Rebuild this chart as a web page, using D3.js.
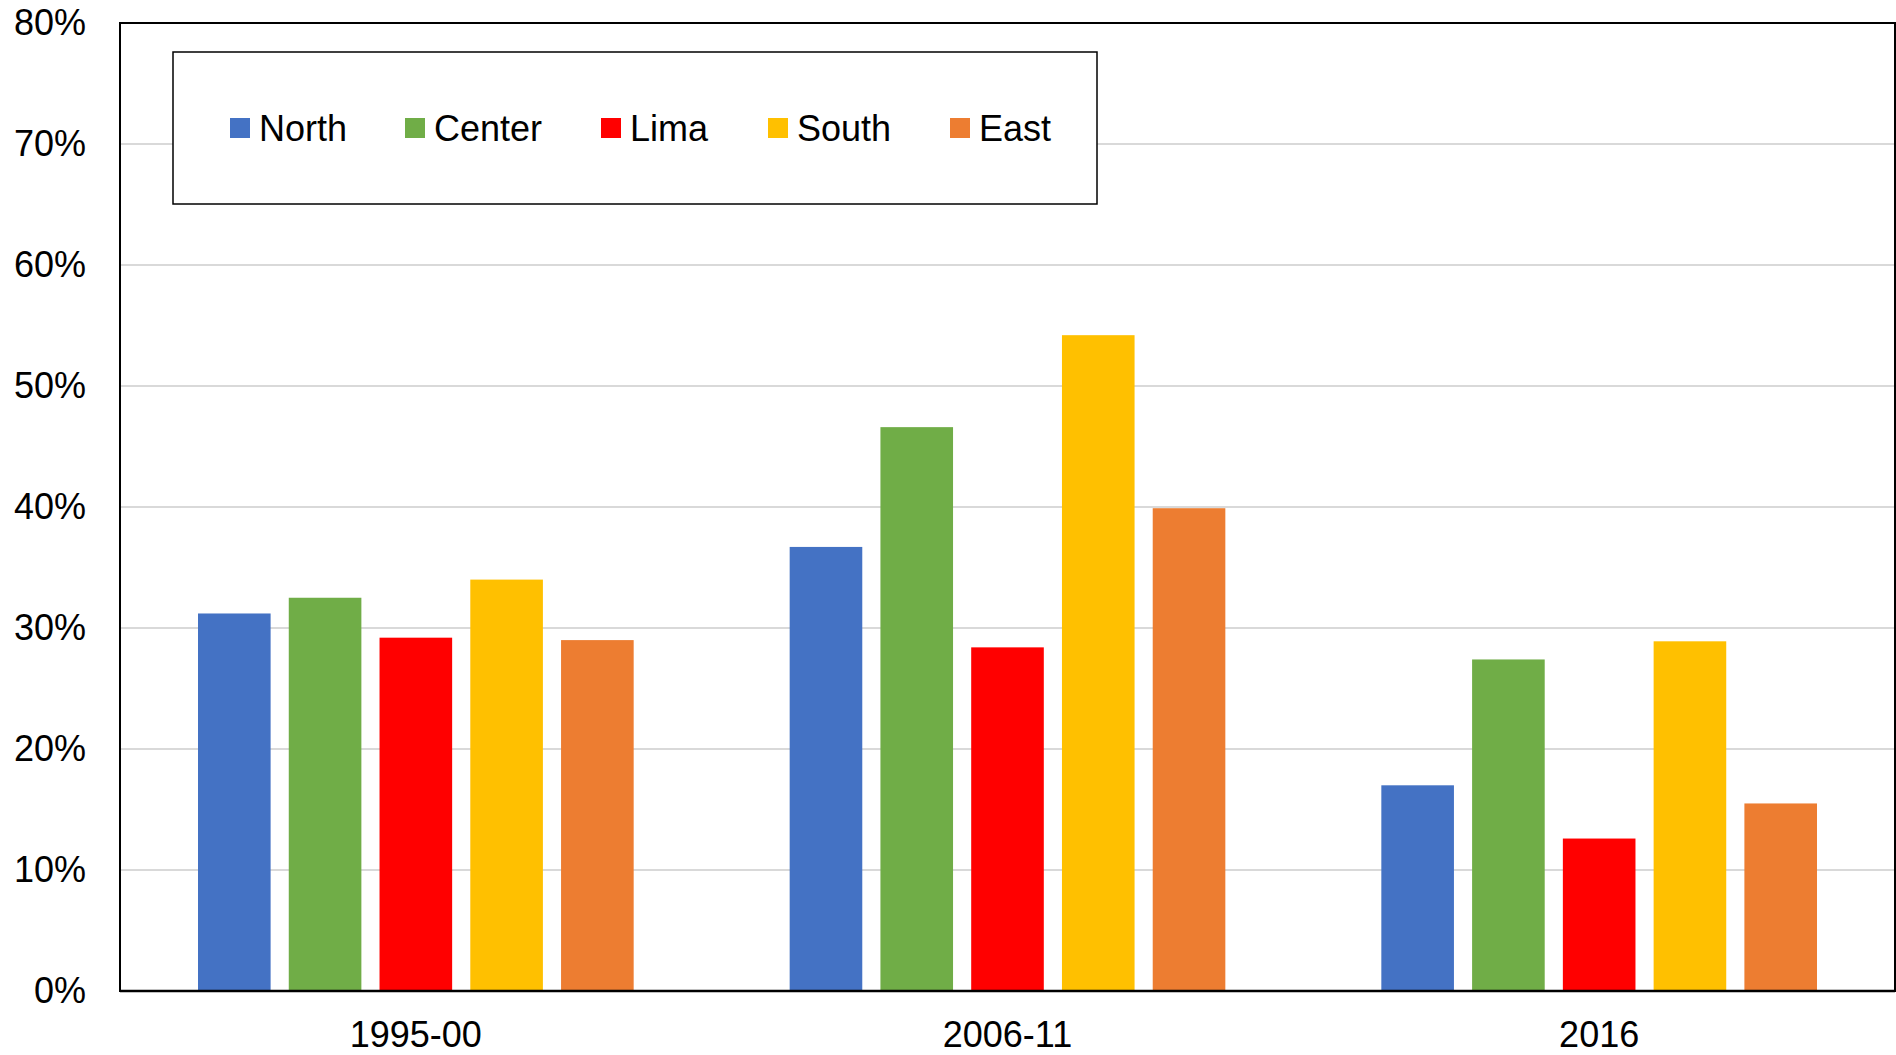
<!DOCTYPE html>
<html>
<head>
<meta charset="utf-8">
<script src="https://cdn.jsdelivr.net/npm/d3@7"></script>
<style>
  html, body { margin: 0; padding: 0; background: #fff; }
  svg { display: block; font-family: "Liberation Sans", Arial, sans-serif; }
</style>
</head>
<body>
<svg id="chart" width="1896" height="1055"></svg>
<script>
const categories = ["1995-00", "2006-11", "2016"];
const seriesNames = ["North", "Center", "Lima", "South", "East"];
const seriesColors = ["#4472C4", "#70AD47", "#FF0000", "#FFC000", "#ED7D31"];
const north  = [0.312, 0.367, 0.170];
const center = [0.325, 0.466, 0.274];
const lima   = [0.292, 0.284, 0.126];
const south  = [0.340, 0.542, 0.289];
const east   = [0.290, 0.399, 0.155];
const seriesValues = [north, center, lima, south, east];
const yTicks = [0, 0.1, 0.2, 0.3, 0.4, 0.5, 0.6, 0.7, 0.8];

(function () {
const svg = d3.select("#chart");
const pL = 120, pR = 1895, pT = 23, pB = 991;

const x0 = d3.scaleBand().domain(categories).range([pL, pR]).padding(0);
const groupPad = 78;
const x1 = d3.scaleBand().domain(seriesNames)
  .range([groupPad, x0.bandwidth() - groupPad]).paddingInner(0.2).paddingOuter(0);
const y = d3.scaleLinear().domain([0, 0.8]).range([pB, pT]);
const color = d3.scaleOrdinal().domain(seriesNames).range(seriesColors);

// gridlines
svg.append("g").selectAll("line").data(yTicks.filter(t => t > 0 && t < 0.8)).join("line")
  .attr("x1", pL).attr("x2", pR)
  .attr("y1", d => y(d)).attr("y2", d => y(d))
  .attr("stroke", "#D9D9D9").attr("stroke-width", 2);

// bars
const rows = [];
categories.forEach((c, i) => seriesNames.forEach((s, j) => rows.push({cat: c, ser: s, v: seriesValues[j][i]})));
svg.append("g").selectAll("rect").data(rows).join("rect")
  .attr("x", d => x0(d.cat) + x1(d.ser))
  .attr("width", x1.bandwidth())
  .attr("y", d => y(d.v))
  .attr("height", d => y(0) - y(d.v))
  .attr("fill", d => color(d.ser));

// plot border
svg.append("rect").attr("x", pL).attr("y", pT)
  .attr("width", pR - pL).attr("height", pB - pT)
  .attr("fill", "none").attr("stroke", "#000").attr("stroke-width", 2);
svg.append("line").attr("x1", pL).attr("x2", pR).attr("y1", pB).attr("y2", pB)
  .attr("stroke", "#000").attr("stroke-width", 2.5);

// y axis labels
const yAxis = d3.axisLeft(y).tickValues(yTicks).tickFormat(d3.format(".0%")).tickSize(0).tickPadding(34);
const ya = svg.append("g").attr("transform", `translate(${pL},0)`).call(yAxis);
ya.select(".domain").remove();
ya.selectAll("text").attr("font-size", 36).attr("fill", "#000")
  .attr("font-family", "'Liberation Sans', Arial, sans-serif");

// x axis labels
const xAxis = d3.axisBottom(x0).tickSize(0).tickPadding(30);
const xa = svg.append("g").attr("transform", `translate(0,${pB})`).call(xAxis);
xa.select(".domain").remove();
xa.selectAll("text").attr("font-size", 36).attr("fill", "#000")
  .attr("font-family", "'Liberation Sans', Arial, sans-serif");

// legend
const lg = svg.append("g");
lg.append("rect").attr("x", 173).attr("y", 52).attr("width", 924).attr("height", 152)
  .attr("fill", "#fff").attr("stroke", "#000").attr("stroke-width", 1.5);
const legendX = [230, 405, 601, 768, 950];
const items = lg.selectAll("g.item").data(seriesNames).join("g").attr("class", "item")
  .attr("transform", (d, i) => `translate(${legendX[i]},128)`);
items.append("rect").attr("x", 0).attr("y", -10).attr("width", 20).attr("height", 20)
  .attr("fill", d => color(d));
items.append("text").attr("x", 29).attr("y", 0).attr("dy", "0.35em")
  .attr("font-size", 36).attr("fill", "#000").text(d => d);
})();
</script>
</body>
</html>
